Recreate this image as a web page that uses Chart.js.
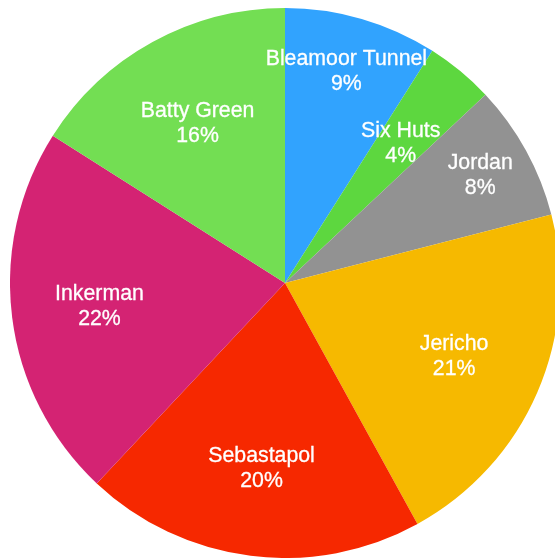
<!DOCTYPE html>
<html>
<head>
<meta charset="utf-8">
<script src="https://cdn.jsdelivr.net/npm/chart.js@4/dist/chart.umd.min.js"></script>
<style>
  html, body { margin: 0; padding: 0; background: #ffffff; overflow: hidden; width: 555px; height: 558px; }
  #wrap { position: absolute; left: 10px; top: 8px; width: 550px; height: 550px; }
</style>
</head>
<body>
<div id="wrap"><canvas id="c" width="550" height="550"></canvas></div>
<script>
const categories = ["Bleamoor Tunnel", "Six Huts", "Jordan", "Jericho", "Sebastapol", "Inkerman", "Batty Green"];
const shares = [9, 4, 8, 21, 20, 22, 16];
const sliceColors = ["#31A3FE", "#5DD73F", "#929292", "#F6B900", "#F62800", "#D42373", "#73DE53"];
const labelRadius = [0.80, 0.66, 0.81, 0.67, 0.68, 0.68, 0.66];

const sliceLabels = {
  id: 'sliceLabels',
  afterDatasetsDraw(chart) {
    const ctx = chart.ctx;
    const meta = chart.getDatasetMeta(0);
    const data = chart.data.datasets[0].data;
    const total = data.reduce((a, b) => a + b, 0);
    ctx.save();
    ctx.fillStyle = '#ffffff';
    ctx.strokeStyle = '#ffffff';
    ctx.lineWidth = 0.3;
    ctx.textAlign = 'center';
    ctx.textBaseline = 'middle';
    ctx.font = '21.3px "Liberation Sans", Arial, Helvetica, sans-serif';
    meta.data.forEach((arc, i) => {
      const p = arc.getProps(['x', 'y', 'startAngle', 'endAngle', 'outerRadius'], true);
      const mid = (p.startAngle + p.endAngle) / 2;
      const r = p.outerRadius * labelRadius[i];
      const px = p.x + Math.cos(mid) * r;
      const py = p.y + Math.sin(mid) * r;
      const name = chart.data.labels[i];
      const pct = Math.round(data[i] / total * 100) + '%';
      ctx.fillText(name, px, py - 12.5);
      ctx.strokeText(name, px, py - 12.5);
      ctx.fillText(pct, px, py + 12.5);
      ctx.strokeText(pct, px, py + 12.5);
    });
    ctx.restore();
  }
};

new Chart(document.getElementById('c'), {
  type: 'pie',
  data: {
    labels: categories,
    datasets: [{
      data: shares,
      backgroundColor: sliceColors,
      borderWidth: 0
    }]
  },
  options: {
    responsive: false,
    animation: false,
    layout: { padding: 0 },
    plugins: {
      legend: { display: false },
      tooltip: { enabled: false }
    }
  },
  plugins: [sliceLabels]
});
</script>
</body>
</html>
